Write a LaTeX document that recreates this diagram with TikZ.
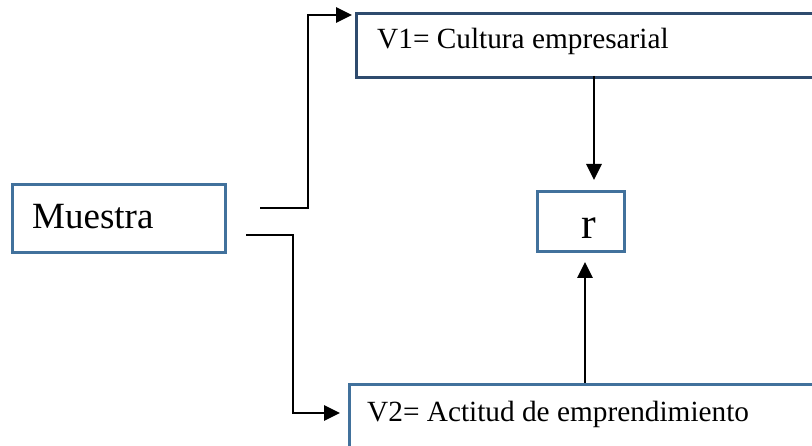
\documentclass[tikz,border=0pt]{standalone}
\usepackage{fontspec}
\setmainfont{Liberation Serif}
\usetikzlibrary{arrows.meta,calc}
\definecolor{boxblue}{HTML}{41719C}
\definecolor{boxdark}{HTML}{2F4B6E}
\begin{document}
\begin{tikzpicture}[x=1pt,y=-1pt,
  boxA/.style={draw=boxblue,line width=2.8pt,anchor=north west,inner sep=0pt},
  boxB/.style={draw=boxdark,line width=2.8pt,anchor=north west,inner sep=0pt},
  txt/.style={anchor=base west,inner sep=0pt,text=black},
  arr/.style={line width=2.8pt,-{Triangle[length=16pt,width=15pt]}}]
\useasboundingbox (0,0) rectangle (812,446);
\clip (0,0) rectangle (812,446);
% boxes
\node[boxA,minimum width=213pt,minimum height=68pt] (m) at (11,183) {};
\node[boxB,minimum width=480pt,minimum height=64pt] (v1) at (355,12) {};
\node[boxA,minimum width=87pt,minimum height=60pt] (r) at (536,190) {};
\node[boxA,minimum width=490pt,minimum height=90pt] (v2) at (348,383) {};
% texts
\node[txt,font=\fontsize{37}{40}\selectfont] (mt) at (32,229) {Muestra};
\node[txt,font=\fontsize{29.3}{32}\selectfont] (v1t) at (377,49) {V1= Cultura empresarial};
\node[txt,font=\fontsize{44}{48}\selectfont] (rt) at (581,239) {r};
\node[txt,font=\fontsize{29.3}{32}\selectfont] (v2t) at (367,422) {V2= Actitud de emprendimiento};
% connectors
\coordinate (m1) at (260,208);
\coordinate (m2) at (246,235);
\coordinate (c1) at (308,208);
\coordinate (c2) at (293,235);
\coordinate (t1) at ($(v1.north west)+(-3,3)$);
\coordinate (t2) at (340,413);
\draw[arr] (m1) -- (c1) |- (t1);
\draw[arr] (m2) -- (c2) |- (t2);
\draw[arr,shorten >=10pt] (594,76) coordinate (d1) -- (594,190) coordinate (d2);
\draw[arr,shorten >=12pt] (585,383) coordinate (u1) -- (585,250) coordinate (u2);
\end{tikzpicture}
\end{document}
